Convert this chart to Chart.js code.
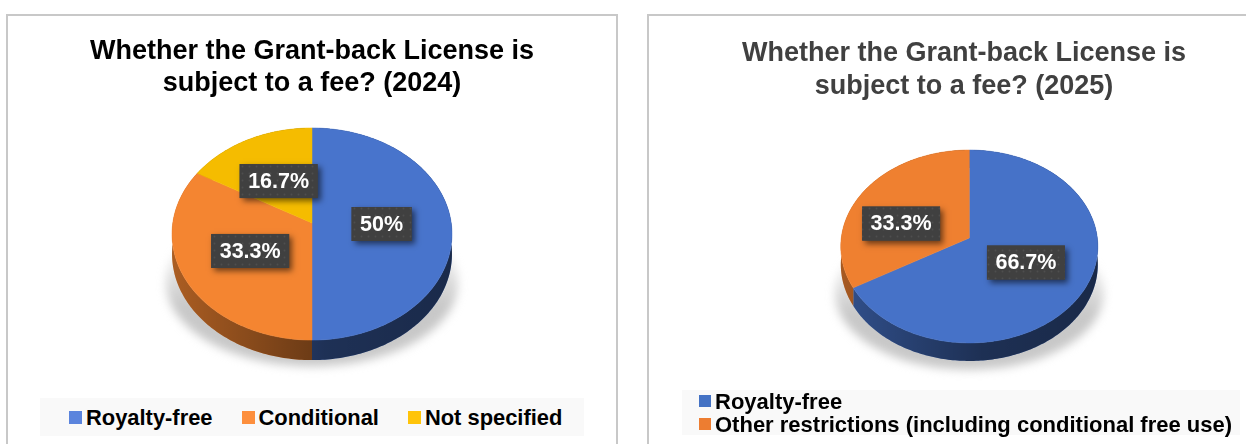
<!DOCTYPE html>
<html lang="en">
<head>
<meta charset="utf-8">
<title>Grant-back License fee</title>
<script src="https://cdn.jsdelivr.net/npm/chart.js@4/dist/chart.umd.min.js"></script>
<style>
  html, body { margin:0; padding:0; background:#fff; width:1246px; height:444px; overflow:hidden; font-family:"Liberation Sans", Arial, sans-serif; }
  .frame { position:absolute; top:14px; height:440px; border:2px solid #c8c8c8; box-sizing:border-box; }
  #frame-2024 { left:6px; width:612px; }
  #frame-2025 { left:647px; width:640px; }
  canvas { position:absolute; top:0; left:0; }
  .legend { position:absolute; background:#f9f9f9; color:#000; font-weight:bold; font-size:22px; display:flex; box-sizing:border-box; }
  .legend span.item { display:flex; align-items:center; white-space:nowrap; line-height:23px; }
  .legend i { display:block; width:13px; height:13px; margin-right:4px; flex:none; }
  #legend-2024 { left:40px; top:398px; width:544px; height:38px; padding-left:29px; gap:29px; align-items:center; font-size:21.9px; }
  #legend-2025 { left:682px; top:390px; width:558px; height:45px; padding-left:17px; flex-direction:column; justify-content:center; }
  #legend-2025 i { width:12px; height:12px; }
</style>
</head>
<body>
<div class="frame" id="frame-2024"><canvas id="pie-2024" width="608" height="428"></canvas></div>
<div class="frame" id="frame-2025"><canvas id="pie-2025" width="630" height="428"></canvas></div>
<div class="legend" id="legend-2024"></div>
<div class="legend" id="legend-2025"></div>

<script>
const labels2024 = ['Royalty-free', 'Conditional', 'Not specified'];
const values2024 = [50, 33.3, 16.7];
const colors2024 = ['#4874cc', '#f48531', '#f5bc00'];
const keys2024 = ['#5b84dd', '#fd8f3d', '#ffc40a'];
const title2024 = ['Whether the Grant-back License is', 'subject to a fee? (2024)'];

const labels2025 = ['Royalty-free', 'Other restrictions (including conditional free use)'];
const values2025 = [66.7, 33.3];
const colors2025 = ['#4672c8', '#ef8030'];
const keys2025 = ['#4472c4', '#ed7d31'];
const title2025 = ['Whether the Grant-back License is', 'subject to a fee? (2025)'];

// point on the rim (f=1) or inside the slice, seen with perspective from the front
function project(el, angle, f, tilt){
  const x = Math.cos(angle) * f, y = Math.sin(angle) * f;
  const w = 1 - tilt.persp * y;
  return { x: el.x + tilt.shiftX + el.outerRadius * x / w, y: el.y + el.outerRadius * tilt.squash * y / w };
}

function rimPoints(el, tilt){
  const n = Math.max(2, Math.ceil((el.endAngle - el.startAngle) * 60));
  const pts = [];
  for(let i = 0; i <= n; i++){
    pts.push(project(el, el.startAngle + (el.endAngle - el.startAngle) * i / n, 1, tilt));
  }
  return pts;
}

function drawShadow(ctx, el, tilt){
  const R = el.outerRadius;
  const g = ctx.createLinearGradient(0, el.y + R * 0.1, 0, el.y + R * 0.6);
  g.addColorStop(0, 'rgba(190,190,190,0)');
  g.addColorStop(1, 'rgba(190,190,190,.85)');
  ctx.save();
  ctx.filter = 'blur(5px)';
  ctx.fillStyle = g;
  ctx.beginPath();
  ctx.ellipse(el.x + tilt.shiftX, el.y + R * 0.43, R * 1.05, R * 0.6, 0, 0, Math.PI * 2);
  ctx.fill();
  ctx.restore();
}

function drawWall(ctx, el, tilt, color){
  const rim = rimPoints(el, tilt);
  const base = rim.map(p => ({ x: p.x, y: p.y + tilt.depth })).reverse();
  const R = el.outerRadius, cx = el.x + tilt.shiftX;
  const shade = ctx.createLinearGradient(cx - R, 0, cx + R, 0);
  shade.addColorStop(0, 'rgba(0,0,0,.3)');
  shade.addColorStop(0.55, 'rgba(0,0,0,.58)');
  shade.addColorStop(1, 'rgba(0,0,0,.64)');
  ctx.beginPath();
  rim.concat(base).forEach((p, i) => i ? ctx.lineTo(p.x, p.y) : ctx.moveTo(p.x, p.y));
  ctx.closePath();
  ctx.fillStyle = color;
  ctx.fill();
  ctx.fillStyle = shade;
  ctx.fill();
}

function drawFace(ctx, el, tilt, color){
  ctx.beginPath();
  ctx.moveTo(el.x + tilt.shiftX, el.y);
  rimPoints(el, tilt).forEach(p => ctx.lineTo(p.x, p.y));
  ctx.closePath();
  ctx.fillStyle = color;
  ctx.strokeStyle = color;
  ctx.lineWidth = 0.5;
  ctx.fill();
  ctx.stroke();
}

// dark value tag with a faint dot grain
function dotPattern(ctx){
  const c = document.createElement('canvas');
  c.width = c.height = 7;
  const g = c.getContext('2d');
  g.fillStyle = '#404040';
  g.fillRect(0, 0, 7, 7);
  g.fillStyle = '#4e4e4e';
  g.beginPath();
  g.arc(3.5, 3.5, 1, 0, Math.PI * 2);
  g.fill();
  return ctx.createPattern(c, 'repeat');
}

function drawTag(ctx, text, cx, cy){
  ctx.font = 'bold 21.5px "Liberation Sans"';
  const w = ctx.measureText(text).width + 17, h = 34;
  ctx.save();
  ctx.shadowColor = 'rgba(0,0,0,.55)';
  ctx.shadowBlur = 6;
  ctx.shadowOffsetX = 3;
  ctx.shadowOffsetY = 3;
  ctx.fillStyle = '#404040';
  ctx.fillRect(cx - w / 2, cy - h / 2, w, h);
  ctx.restore();
  ctx.fillStyle = dotPattern(ctx);
  ctx.fillRect(cx - w / 2, cy - h / 2, w, h);
  ctx.fillStyle = '#fff';
  ctx.textAlign = 'center';
  ctx.textBaseline = 'middle';
  ctx.fillText(text, cx, cy + 1);
}

// replaces the flat arcs with a tilted, extruded version of the same elements
const tiltedPie = {
  id: 'tiltedPie',
  beforeDatasetDraw(chart, args, opts){
    const ctx = chart.ctx;
    const arcs = args.meta.data;
    const colors = chart.data.datasets[0].backgroundColor;
    const values = chart.data.datasets[0].data;
    ctx.save();
    drawShadow(ctx, arcs[0], opts);
    arcs.forEach((el, i) => drawWall(ctx, el, opts, colors[i]));
    arcs.forEach((el, i) => drawFace(ctx, el, opts, colors[i]));
    arcs.forEach((el, i) => {
      const p = project(el, (el.startAngle + el.endAngle) / 2, 0.5, opts);
      const nudge = opts.nudge[i] || [0, 0];
      drawTag(ctx, values[i] + '%', p.x + nudge[0], p.y + nudge[1]);
    });
    ctx.restore();
    return false;
  }
};

function makePie(id, labels, values, colors, title, cfg){
  return new Chart(document.getElementById(id), {
    type: 'pie',
    data: { labels, datasets: [{ data: values, backgroundColor: colors, borderWidth: 0 }] },
    options: {
      responsive: false,
      animation: false,
      radius: cfg.radius,
      layout: { padding: cfg.padding },
      plugins: {
        legend: { display: false },
        tooltip: { enabled: false },
        title: {
          display: true,
          text: title,
          color: cfg.titleColor,
          font: { family: '"Liberation Sans"', size: 27, weight: 'bold', lineHeight: cfg.titleLine },
          padding: { top: cfg.titleTop, bottom: 0 }
        },
        tiltedPie: cfg.tilt
      }
    },
    plugins: [tiltedPie]
  });
}

function makeLegend(id, labels, keys){
  document.getElementById(id).innerHTML = labels.map((t, i) =>
    `<span class="item"><i style="background:${keys[i]}"></i>${t}</span>`).join('');
}

makePie('pie-2024', labels2024, values2024, colors2024, title2024, {
  radius: 139.2,
  padding: { left: 0, right: 0, top: 0, bottom: 97.5 },
  titleColor: '#000',
  titleLine: 32 / 27,
  titleTop: 19.5,
  tilt: { persp: 0.104, squash: 0.7536, depth: 20, shiftX: 0, nudge: [[0, 1], [0, 1], [0, 1.5]] }
});
makePie('pie-2025', labels2025, values2025, colors2025, title2025, {
  radius: 128,
  padding: { left: 0, right: 0, top: 0, bottom: 71 },
  titleColor: '#404040',
  titleLine: 33 / 27,
  titleTop: 21,
  tilt: { persp: 0.088, squash: 0.7477, depth: 18, shiftX: 5.3, nudge: [[0, 0], [-14, 9]] }
});
makeLegend('legend-2024', labels2024, keys2024);
makeLegend('legend-2025', labels2025, keys2025);
</script>
</body>
</html>
